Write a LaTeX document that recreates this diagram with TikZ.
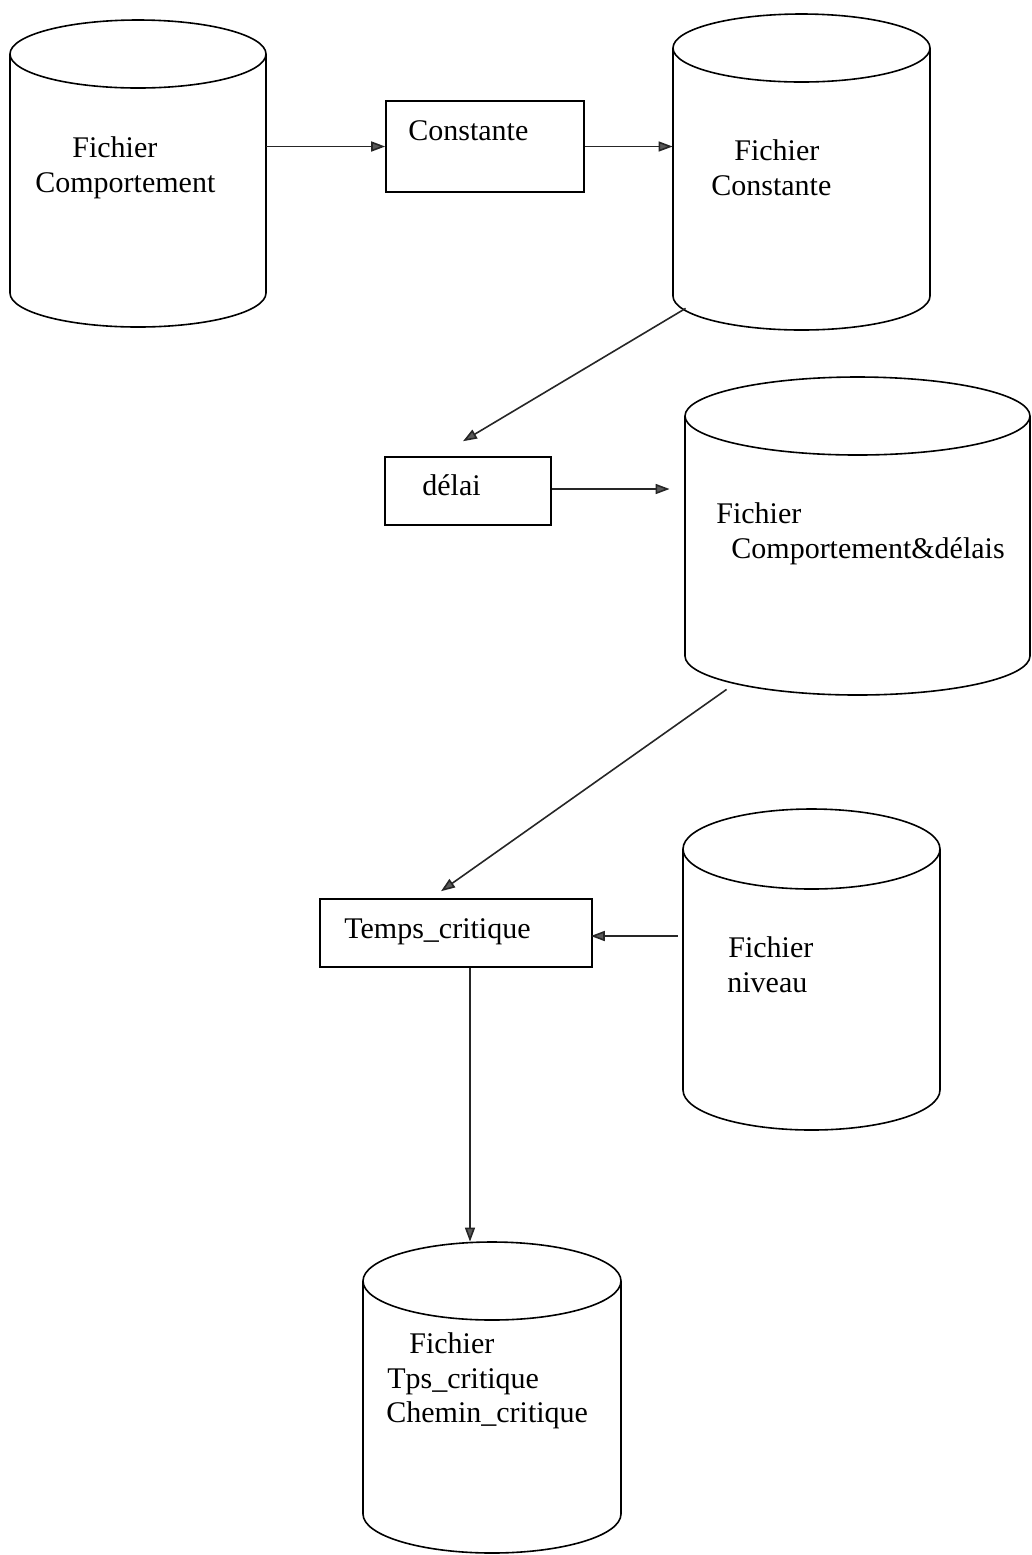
\documentclass[tikz,border=0pt]{standalone}
\usepackage{fontspec}
\setmainfont{Liberation Serif}
\usetikzlibrary{arrows.meta,calc,fit}
% #1 name, #2 left x, #3 right x, #4 top y, #5 bottom y, #6 ellipse y radius (all in px, y downwards)
\newcommand\drum[6]{%
  \node[inner sep=0pt, fit={(#2,-#4) (#3,-#5)}] (#1) {};
  \draw[outline] (#2,{-#4-#6}) -- (#2,{-#5+#6})
     arc[start angle=180, end angle=360, x radius={(#3-#2)/2}, y radius=#6]
     -- (#3,{-#4-#6});
  \draw[outline] ({(#2+#3)/2},{-#4-#6}) ellipse[x radius={(#3-#2)/2}, y radius=#6];
}
\begin{document}
\begin{tikzpicture}[x=0.5pt,y=0.5pt,
  outline/.style={draw=black, line width=0.8pt},
  procbox/.style={draw=black, line width=0.8pt, inner sep=0pt},
  lbl/.style={anchor=base west, inner sep=0pt, font=\fontsize{15}{18}\selectfont},
  flow/.style={draw=black!85, line width=0.8pt, -{Triangle[length=7pt,width=5pt,fill=black!65]}},
]
\useasboundingbox (0,0) rectangle (1032,-1555);

% cylinders
\drum{c1}{10}{266}{20}{327}{34}
\drum{c2}{673}{930}{14}{330}{34}
\drum{c3}{685}{1030}{377}{695}{39}
\drum{c4}{683}{940}{809}{1130}{40}
\drum{c5}{363}{621}{1242}{1553}{39}

% process boxes
\node[procbox, fit={(386,-101) (584,-192)}] (k1) {};
\node[procbox, fit={(385,-457) (551,-525)}] (d1) {};
\node[procbox, fit={(320,-899) (592,-967)}] (t1) {};

% texts
\node[lbl] (c1a) at (72,-157) {Fichier};
\node[lbl] (c1b) at (35,-192) {Comportement};
\node[lbl] (k1t) at (408,-140) {Constante};
\node[lbl] (c2a) at (734,-160) {Fichier};
\node[lbl] (c2b) at (711,-195) {Constante};
\node[lbl] (d1t) at (422,-495) {délai};
\node[lbl] (c3a) at (716,-523) {Fichier};
\node[lbl] (c3b) at (731,-558) {Comportement\&délais};
\node[lbl] (t1t) at (344,-938) {Temps\_critique};
\node[lbl] (c4a) at (728,-957) {Fichier};
\node[lbl] (c4b) at (727,-992) {niveau};
\node[lbl] (c5a) at (409,-1353) {Fichier};
\node[lbl] (c5b) at (387,-1388) {Tps\_critique};
\node[lbl] (c5c) at (386,-1422) {Chemin\_critique};

% connectors
\draw[flow] (c1.east |- k1.west) -- (k1.west);
\draw[flow] (k1.east) -- (k1.east -| c2.west);
\draw[flow] ($(c2.south west)+(13,22)$) -- ($(d1.north)+(-5,15)$);
\draw[flow] ($(d1.east)+(0,2)$) -- ($(d1.east -| c3.west)+(-15,2)$);
\draw[flow] ($(c3.south west)+(42,6)$) -- ($(t1.north)+(-15,7)$);
\draw[flow] ($(c4.west |- t1.east)+(-5,-3)$) -- ($(t1.east)+(-2,-3)$);
\draw[flow] ($(t1.south)+(14,0)$) coordinate (v) -- (v |- c5.north);
\end{tikzpicture}
\end{document}
